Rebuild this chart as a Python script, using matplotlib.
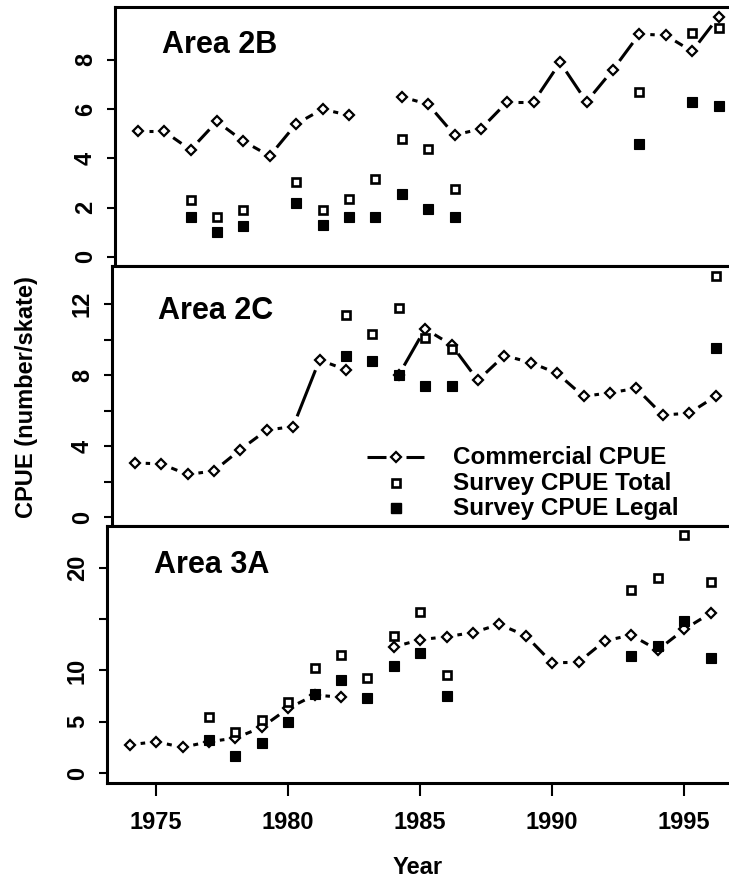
import numpy as np
import matplotlib
matplotlib.use("Agg")
import matplotlib.pyplot as plt
from matplotlib.lines import Line2D

plt.rcParams['font.family'] = ['Liberation Sans', 'DejaVu Sans']
plt.rcParams['font.weight'] = 'bold'

# ---- data ----
years = list(range(1974, 1997))
nan = np.nan

comm_2B = [5.1, 5.1, 4.35, 5.5, 4.7, 4.1, 5.4, 6.0, 5.75, nan, 6.5, 6.2,
           4.95, 5.2, 6.3, 6.3, 7.9, 6.3, 7.6, 9.05, 9.0, 8.35, 9.75]
surv_years_2B = [1976, 1977, 1978, 1980, 1981, 1982, 1983, 1984, 1985, 1986, 1993, 1995, 1996]
total_2B = [2.3, 1.6, 1.9, 3.05, 1.9, 2.35, 3.15, 4.8, 4.4, 2.75, 6.7, 9.1, 9.3]
legal_2B = [1.62, 1.02, 1.25, 2.2, 1.3, 1.6, 1.62, 2.55, 1.95, 1.6, 4.6, 6.28, 6.12]

comm_2C = [3.05, 3.0, 2.4, 2.6, 3.8, 4.9, 5.1, 8.85, 8.3, nan, 8.0, 10.6,
           9.7, 7.7, 9.1, 8.7, 8.1, 6.8, 7.0, 7.25, 5.75, 5.85, 6.8]
surv_years_2C = [1982, 1983, 1984, 1985, 1986, 1996]
total_2C = [11.4, 10.3, 11.75, 10.1, 9.45, 13.55]
legal_2C = [9.1, 8.8, 8.0, 7.4, 7.4, 9.5]

comm_3A = [2.75, 3.05, 2.5, 3.05, 3.4, 4.45, 6.3, 7.6, 7.4, nan, 12.3, 13.0,
           13.3, 13.7, 14.5, 13.4, 10.75, 10.8, 12.9, 13.45, 12.0, 14.0, 15.6]
surv_years_3A = [1977, 1978, 1979, 1980, 1981, 1982, 1983, 1984, 1985, 1986, 1993, 1994, 1995, 1996]
total_3A = [5.5, 4.0, 5.2, 6.95, 10.2, 11.5, 9.25, 13.4, 15.7, 9.55, 17.9, 19.0, 23.2, 18.6]
legal_3A = [3.2, 1.7, 2.95, 4.95, 7.7, 9.05, 7.3, 10.4, 11.7, 7.5, 11.45, 12.4, 14.85, 11.25]

W, H = 729, 882
fig = plt.figure(figsize=(W / 100, H / 100), dpi=100)

XLIM = (1973.14, 1997.12)
PX_PER_YR = 26.4


def add_panel(left, top, bottom, ylim):
    width = (XLIM[1] - XLIM[0]) * PX_PER_YR
    ax = fig.add_axes([left / W, 1 - bottom / H, width / W, (bottom - top) / H])
    ax.set_xlim(*XLIM)
    ax.set_ylim(*ylim)
    for s in ax.spines.values():
        s.set_linewidth(2.2)
    ax.tick_params(axis='y', length=6, width=1.5, labelsize=17, pad=7)
    ax.tick_params(axis='x', length=9.5, width=1.5, labelsize=17, pad=11)
    return ax


def type_b(ax, xs, ys, gap_px=11):
    # R style type="b": line segments that stop short of the points
    pts = ax.transData.transform(np.column_stack([xs, ys]))
    inv = ax.transData.inverted()
    for i in range(len(xs) - 1):
        p, q = pts[i], pts[i + 1]
        if np.isnan(p).any() or np.isnan(q).any():
            continue
        d = q - p
        L = np.hypot(*d)
        if L <= 2 * gap_px:
            continue
        a = p + d * gap_px / L
        b = q - d * gap_px / L
        seg = inv.transform(np.array([a, b]))
        ax.plot(seg[:, 0], seg[:, 1], color='black', lw=2.2,
                solid_capstyle='butt', zorder=2)
    ax.plot(xs, ys, linestyle='none', marker='D', ms=5.2, mfc='white',
            mec='black', mew=1.6, zorder=3)


def survey(ax, yrs, tot, leg):
    ax.plot(yrs, tot, linestyle='none', marker='s', ms=6.3, mfc='white',
            mec='black', mew=1.9, zorder=4)
    ax.plot(yrs, leg, linestyle='none', marker='s', ms=7.2, mfc='black',
            mec='black', mew=0.8, zorder=4)


ax1 = add_panel(115, 7, 266, (-0.37, 10.15))
ax2 = add_panel(112, 266, 526, (-0.5, 14.14))
ax3 = add_panel(107, 526, 783, (-0.98, 24.1))

ax1.set_yticks([0, 2, 4, 6, 8])
ax2.set_yticks([0, 2, 4, 6, 8, 10, 12])
ax2.set_yticklabels(['0', '', '4', '', '8', '', '12'])
ax3.set_yticks([0, 5, 10, 15, 20])
ax3.set_yticklabels(['0', '5', '10', '', '20'])
for ax in (ax1, ax2):
    ax.set_xticks([])
ax3.set_xticks([1975, 1980, 1985, 1990, 1995])

for ax in (ax1, ax2, ax3):
    for lab in ax.get_yticklabels():
        lab.set_rotation(90)
        lab.set_va('center')

type_b(ax1, years, comm_2B)
survey(ax1, surv_years_2B, total_2B, legal_2B)
type_b(ax2, years, comm_2C)
survey(ax2, surv_years_2C, total_2C, legal_2C)
type_b(ax3, years, comm_3A)
survey(ax3, surv_years_3A, total_3A, legal_3A)


def fx(px):
    return px / W


def fy(py):
    return 1 - py / H


fig.text(fx(162), fy(45), 'Area 2B', fontsize=22, ha='left', va='center')
fig.text(fx(158), fy(311), 'Area 2C', fontsize=22, ha='left', va='center')
fig.text(fx(154), fy(565), 'Area 3A', fontsize=22, ha='left', va='center')

# legend (drawn by hand, as in the original)
rows = [457, 483, 508]
fig.add_artist(Line2D([fx(367), fx(386)], [fy(rows[0])] * 2, color='black', lw=2.2,
                      solid_capstyle='butt'))
fig.add_artist(Line2D([fx(406), fx(424)], [fy(rows[0])] * 2, color='black', lw=2.2,
                      solid_capstyle='butt'))
fig.add_artist(Line2D([fx(396)], [fy(rows[0])], marker='D', ms=5.2, mfc='white',
                      mec='black', mew=1.6, linestyle='none'))
fig.add_artist(Line2D([fx(396)], [fy(rows[1])], marker='s', ms=6.3, mfc='white',
                      mec='black', mew=1.9, linestyle='none'))
fig.add_artist(Line2D([fx(396)], [fy(rows[2])], marker='s', ms=7.2, mfc='black',
                      mec='black', linestyle='none'))
labels = ['Commercial CPUE', 'Survey CPUE Total', 'Survey CPUE Legal']
for r, t in zip(rows, labels):
    fig.text(fx(453), fy(r), t, fontsize=17.5, ha='left', va='center')

fig.text(fx(27), fy(397), 'CPUE (number/skate)', fontsize=17, rotation=90,
         ha='center', va='center')
fig.text(fx(418), fy(867), 'Year', fontsize=17, ha='center', va='center')

fig.savefig('out.png', dpi=100)
